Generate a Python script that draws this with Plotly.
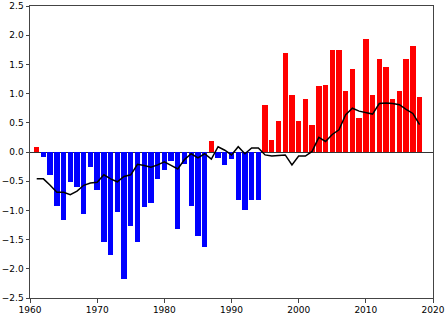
import plotly.graph_objects as go

years = list(range(1961, 2019))
values = [0.08, -0.09, -0.39, -0.93, -1.16, -0.51, -0.60, -1.07, -0.25, -0.65,
          -1.54, -1.77, -1.02, -2.18, -1.27, -1.54, -0.94, -0.87, -0.47, -0.30,
          -0.15, -1.32, -0.20, -0.92, -1.44, -1.63, 0.19, -0.11, -0.22, -0.12,
          -0.82, -1.00, -0.83, -0.83, 0.81, 0.21, 0.53, 1.69, 0.97, 0.53,
          0.91, 0.46, 1.13, 1.15, 1.74, 1.74, 1.04, 1.42, 0.58, 1.94,
          0.98, 1.60, 1.45, 0.90, 1.05, 1.60, 1.81, 0.95]
line_values = [-0.46, -0.46, -0.57, -0.69, -0.69, -0.73, -0.67, -0.57, -0.53, -0.52,
               -0.39, -0.46, -0.51, -0.42, -0.39, -0.21, -0.23, -0.26, -0.22, -0.17,
               -0.23, -0.29, -0.13, -0.03, -0.10, -0.03, -0.12, 0.09, 0.03, -0.05,
               0.09, -0.03, 0.07, 0.07, -0.05, -0.07, -0.06, -0.05, -0.22, -0.07,
               -0.07, 0.01, 0.25, 0.18, 0.30, 0.38, 0.64, 0.75, 0.70, 0.68,
               0.65, 0.83, 0.84, 0.83, 0.81, 0.73, 0.66, 0.47]

x_ticks = [1960, 1970, 1980, 1990, 2000, 2010, 2020]
x_tick_labels = ["1960", "1970", "1980", "1990", "2000", "2010", "2020"]
y_ticks = [2.5, 2.0, 1.5, 1.0, 0.5, 0.0, -0.5, -1.0, -1.5, -2.0, -2.5]
y_tick_labels = ["2.5", "2.0", "1.5", "1.0", "0.5", "0.0", "\u22120.5", "\u22121.0",
                 "\u22121.5", "\u22122.0", "\u22122.5"]

colors = ["#ff0000" if v > 0 else "#0000ff" for v in values]

fig = go.Figure()
fig.add_trace(go.Bar(x=years, y=values, width=0.8, marker=dict(color=colors, line=dict(width=0)),
                     showlegend=False))
fig.add_trace(go.Scatter(x=years, y=line_values, mode="lines",
                         line=dict(color="black", width=1.5), showlegend=False))

axis_common = dict(showline=True, mirror=True, linecolor="#444444", linewidth=1,
                   ticks="outside", ticklen=3.5, tickwidth=1, tickcolor="#444444",
                   showgrid=False, automargin=False,
                   tickfont=dict(family="DejaVu Sans", size=9, color="black"))

fig.update_xaxes(range=[1960, 2020], tickvals=x_ticks, ticktext=x_tick_labels,
                 zeroline=False, **axis_common)
fig.update_yaxes(range=[-2.5, 2.5], tickvals=y_ticks, ticktext=y_tick_labels,
                 zeroline=True, zerolinecolor="#333333", zerolinewidth=1, **axis_common)

fig.update_layout(width=447, height=316, autosize=False,
                  margin=dict(l=30, r=14, t=6, b=18),
                  plot_bgcolor="white", paper_bgcolor="white", bargap=0)

fig.write_html("out.html", config={"displayModeBar": False},
               post_script="document.body.style.margin='0';document.body.style.overflow='hidden';")
